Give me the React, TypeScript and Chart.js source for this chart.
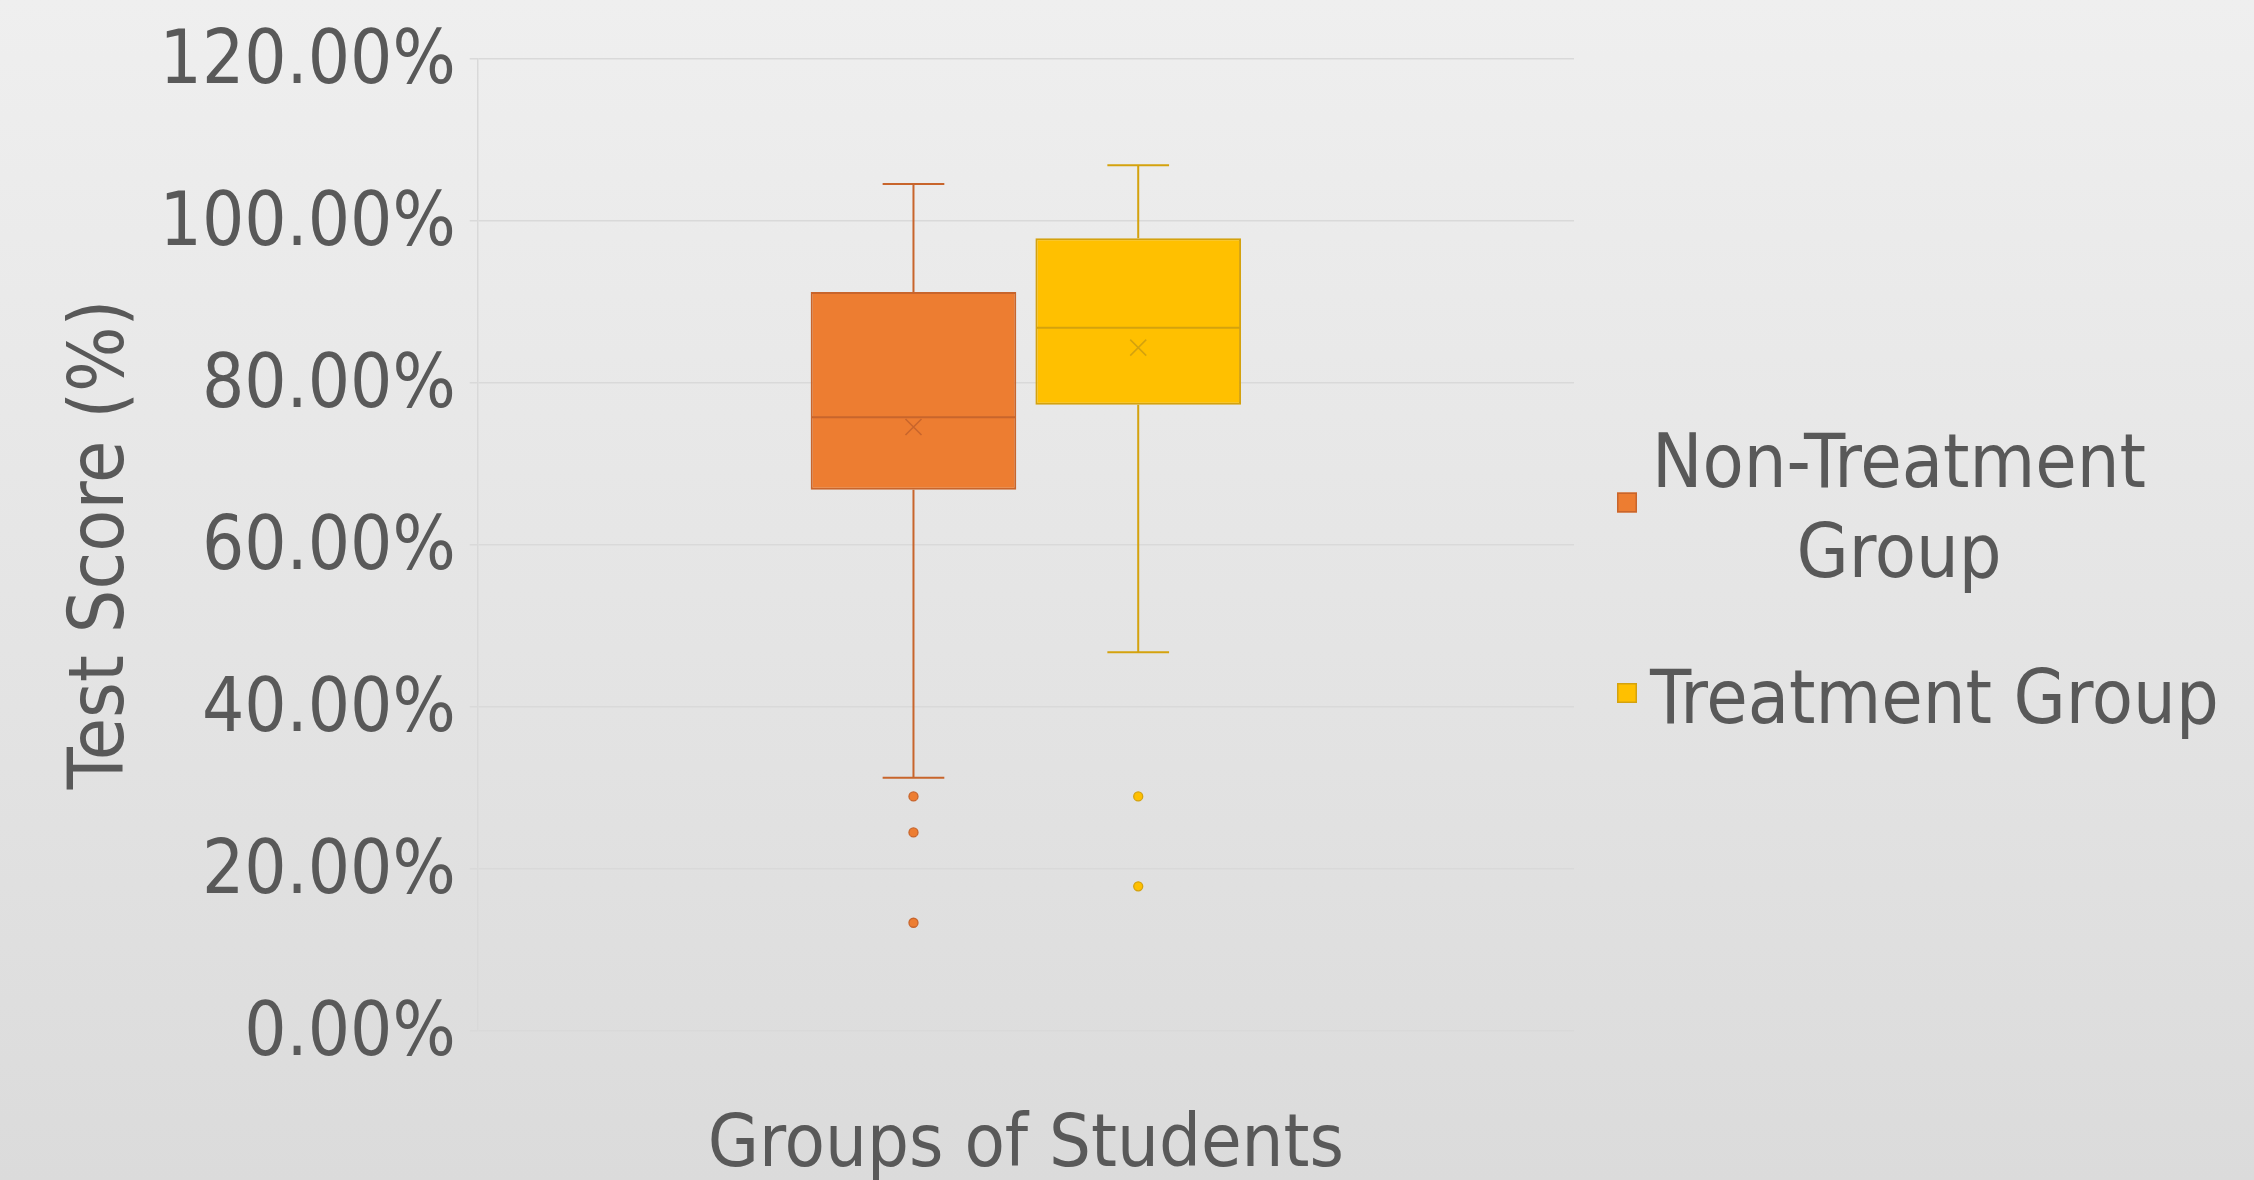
import React, { useEffect, useRef } from 'react';
import { Chart, registerables } from 'chart.js';

Chart.register(...registerables);

// ---- data ----
const seriesNames = ['Non-Treatment Group', 'Treatment Group'];
const legendLines = [['Non-Treatment', 'Group'], ['Treatment Group']];
const categoryLabels = [''];
const q1Values = [0.6675, 0.7725];
const q3Values = [0.9115, 0.978];
const medianValues = [0.757, 0.8675];
const meanValues = [0.745, 0.843];
const whiskerLowValues = [0.312, 0.467];
const whiskerHighValues = [1.045, 1.068];
const outlierValues = [
  [0.289, 0.2445, 0.133],
  [0.289, 0.178],
];
const yTickValues = [0, 0.2, 0.4, 0.6, 0.8, 1.0, 1.2];

// ---- style ----
const fillColors = ['#ED7D31', '#FFC000'];
const strokeColors = ['#C8652C', '#D4A20E'];
const TEXT = '#595959';
const GRID = '#d9d9d9';
const FONT = "'DejaVu Sans Condensed', 'DejaVu Sans', sans-serif";

const boxPlugin = {
  id: 'boxExtras',
  afterDatasetsDraw(chart: any) {
    const ctx = chart.ctx as CanvasRenderingContext2D;
    const y = chart.scales.y;
    chart.data.datasets.forEach((_ds: any, i: number) => {
      const meta = chart.getDatasetMeta(i);
      meta.data.forEach((bar: any) => {
        const { x, width } = bar.getProps(['x', 'width'], true);
        const left = x - width / 2;
        const right = x + width / 2;
        const pQ1 = y.getPixelForValue(q1Values[i]);
        const pQ3 = y.getPixelForValue(q3Values[i]);
        const pLo = y.getPixelForValue(whiskerLowValues[i]);
        const pHi = y.getPixelForValue(whiskerHighValues[i]);
        const pMed = y.getPixelForValue(medianValues[i]);
        const pMean = y.getPixelForValue(meanValues[i]);
        const cap = width * 0.15;
        ctx.save();
        ctx.strokeStyle = strokeColors[i];
        ctx.lineWidth = 2;
        ctx.beginPath();
        ctx.moveTo(x, pQ3);
        ctx.lineTo(x, pHi);
        ctx.moveTo(x - cap, pHi);
        ctx.lineTo(x + cap, pHi);
        ctx.moveTo(x, pQ1);
        ctx.lineTo(x, pLo);
        ctx.moveTo(x - cap, pLo);
        ctx.lineTo(x + cap, pLo);
        ctx.moveTo(left + 1, pMed);
        ctx.lineTo(right - 1, pMed);
        ctx.stroke();
        // mean marker
        ctx.lineWidth = 1.5;
        const m = 8;
        ctx.beginPath();
        ctx.moveTo(x - m, pMean - m);
        ctx.lineTo(x + m, pMean + m);
        ctx.moveTo(x - m, pMean + m);
        ctx.lineTo(x + m, pMean - m);
        ctx.stroke();
        // outliers
        ctx.fillStyle = fillColors[i];
        ctx.lineWidth = 1.3;
        outlierValues[i].forEach((v) => {
          const py = y.getPixelForValue(v);
          ctx.beginPath();
          ctx.arc(x, py, 4.5, 0, Math.PI * 2);
          ctx.fill();
          ctx.stroke();
        });
        ctx.restore();
      });
    });
  },
};

const legendPlugin = {
  id: 'customLegend',
  afterDraw(chart: any) {
    const ctx = chart.ctx as CanvasRenderingContext2D;
    const area = chart.chartArea;
    const sqX = area.right + 43;
    const textLeft = area.right + 78;
    const lineH = 90;
    const items = [
      { baseline: 487, square: 492.5 },
      { baseline: 723, square: 683 },
    ];
    ctx.save();
    ctx.font = `75px ${FONT}`;
    ctx.fillStyle = TEXT;
    ctx.textBaseline = 'alphabetic';
    seriesNames.forEach((_n, i) => {
      const lines = legendLines[i];
      const it = items[i];
      ctx.fillStyle = fillColors[i];
      ctx.strokeStyle = strokeColors[i];
      ctx.lineWidth = 1.5;
      ctx.fillRect(sqX, it.square, 20, 20);
      ctx.strokeRect(sqX + 0.75, it.square + 0.75, 18.5, 18.5);
      ctx.fillStyle = TEXT;
      if (lines.length > 1) {
        const maxW = Math.max(...lines.map((l) => ctx.measureText(l).width));
        const cx = textLeft + maxW / 2;
        ctx.textAlign = 'center';
        lines.forEach((l, k) => ctx.fillText(l, cx, it.baseline + k * lineH));
      } else {
        ctx.textAlign = 'left';
        ctx.fillText(lines[0], textLeft - 2, it.baseline);
      }
    });
    ctx.restore();
  },
};

export default function App() {
  const ref = useRef<HTMLCanvasElement>(null);
  useEffect(() => {
    const canvas = ref.current!;
    const chart = new Chart(canvas, {
      type: 'bar',
      data: {
        labels: categoryLabels,
        datasets: seriesNames.map((name, i) => ({
          label: name,
          data: [[q1Values[i], q3Values[i]]] as any,
          backgroundColor: fillColors[i],
          borderColor: strokeColors[i],
          borderWidth: 2,
          borderSkipped: false,
          categoryPercentage: 0.41,
          barPercentage: 0.915,
        })),
      },
      options: {
        responsive: false,
        animation: false,
        events: [],
        layout: { padding: { left: 0, top: 56.5, right: 680, bottom: 0 } },
        plugins: { legend: { display: false }, tooltip: { enabled: false } },
        scales: {
          x: {
            grid: { display: false },
            border: { display: false },
            ticks: { display: false },
            title: {
              display: true,
              text: 'Groups of Students',
              color: TEXT,
              font: { family: FONT, size: 73.5, lineHeight: 0.8 },
              padding: { top: 0, bottom: 3.5 },
            },
            afterFit: (s: any) => {
              s.height = 149.5;
            },
          },
          y: {
            min: 0,
            max: 1.2,
            afterBuildTicks: (s: any) => {
              s.ticks = yTickValues.map((v) => ({ value: v }));
            },
            ticks: {
              color: TEXT,
              font: { family: FONT, size: 74 },
              padding: 14,
              labelOffset: 5,
              callback: (v: any) => (Number(v) * 100).toFixed(2) + '%',
            },
            grid: { color: GRID, lineWidth: 1.5, tickLength: 8, drawTicks: true },
            border: { display: true, color: GRID, width: 1.5 },
            title: {
              display: true,
              text: 'Test Score (%)',
              color: TEXT,
              font: { family: FONT, size: 76.5 },
              padding: { top: 57, bottom: 0 },
            },
            afterFit: (s: any) => {
              s.width = 477.7;
            },
          },
        },
      },
      plugins: [boxPlugin, legendPlugin],
    });
    return () => chart.destroy();
  }, []);

  return (
    <div
      style={{
        position: 'fixed',
        left: 0,
        top: 0,
        width: 2254,
        height: 1180,
        background: 'linear-gradient(to bottom, #efefef 0%, #dbdbdb 100%)',
      }}
    >
      <canvas ref={ref} width={2254} height={1180} style={{ display: 'block' }} />
    </div>
  );
}
